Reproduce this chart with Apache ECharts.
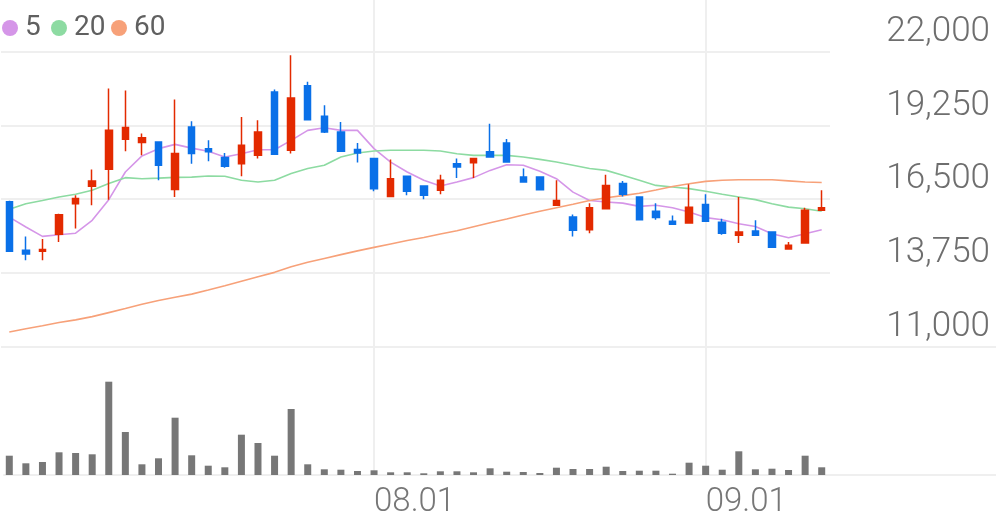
<!DOCTYPE html>
<html>
<head>
<meta charset="utf-8">
<script src="https://cdn.jsdelivr.net/npm/echarts@6/dist/echarts.min.js"></script>
<style>
html,body{margin:0;padding:0;background:#fff;}
#chart{width:996px;height:519px;}
</style>
</head>
<body>
<div id="chart"></div>
<script>
// ---- data ----
const dates = [
  '2020-07-02','2020-07-03','2020-07-06','2020-07-07','2020-07-08','2020-07-09','2020-07-10',
  '2020-07-13','2020-07-14','2020-07-15','2020-07-16','2020-07-17','2020-07-20','2020-07-21',
  '2020-07-22','2020-07-23','2020-07-24','2020-07-27','2020-07-28','2020-07-29','2020-07-30',
  '2020-07-31','2020-08-03','2020-08-04','2020-08-05','2020-08-06','2020-08-07','2020-08-10',
  '2020-08-11','2020-08-12','2020-08-13','2020-08-14','2020-08-18','2020-08-19','2020-08-20',
  '2020-08-21','2020-08-24','2020-08-25','2020-08-26','2020-08-27','2020-08-28','2020-08-31',
  '2020-09-01','2020-09-02','2020-09-03','2020-09-04','2020-09-07','2020-09-08','2020-09-09',
  '2020-09-10'
];
const openP  = [16400,14590,14560,15190,16330,16980,17610,18730,18610,18630,16860,19190,18380,18050,17820,18130,20490,18320,20720,19590,19000,18350,18010,16600,17350,16990,16830,17820,17850,18260,18590,17320,17320,16270,15830,15360,16140,17080,16580,16050,15670,15610,16300,15640,15150,15310,15270,14640,14860,16080];
const closeP = [14560,14450,14620,15920,16520,17170,19070,19170,18790,17760,18200,18200,18260,17720,18510,19000,18170,20270,19460,19000,18280,18220,16890,17260,16790,16640,17200,17700,18010,18070,17880,17140,16850,16450,15340,16180,17010,16680,15730,15810,15560,16200,15670,15230,15270,15150,14710,14780,16080,16180];
const lowP   = [14540,14220,14220,14900,15400,16270,16480,18280,18130,17200,16580,17820,17910,17670,17350,18010,18150,18200,19450,18960,18260,17860,16790,16590,16640,16490,16680,17290,17290,18050,17860,17120,16830,16250,15110,15230,16130,16600,15710,15730,15550,15590,15650,15170,14860,15130,14690,14620,14840,16060];
const highP  = [16440,15110,15010,15950,16640,17600,20620,20550,18940,18650,20210,19400,18690,18220,19560,19440,20580,21860,20870,20000,19370,18590,18030,17980,17370,17000,17410,18010,18020,19310,18740,17640,17330,17200,15930,16350,17410,17170,16590,16350,15890,17050,16680,15770,16580,15710,15290,14900,16180,16830];
const volume = [193000,117000,130000,227000,220000,207000,933000,430000,107000,167000,573000,197000,93000,77000,403000,320000,193000,660000,107000,57000,53000,40000,47000,27000,27000,17000,37000,37000,27000,67000,33000,30000,20000,73000,60000,60000,83000,40000,43000,43000,13000,123000,93000,53000,237000,57000,63000,50000,193000,77000];
const ma5  = [15830,15460,15110,15170,15230,15710,16480,17510,18110,18380,18540,18400,18280,18070,18190,18340,18340,18690,19060,19160,19060,19060,18380,17880,17510,17200,16990,17140,17300,17570,17780,17760,17540,17260,16760,16450,16390,16350,16230,16270,16180,16020,15810,15730,15580,15480,15210,15060,15210,15360];
const ma20 = [16120,16330,16450,16580,16680,16830,17080,17300,17260,17280,17310,17320,17360,17350,17200,17140,17200,17450,17640,17760,18070,18220,18290,18320,18320,18320,18290,18190,18130,18130,18130,18070,17980,17880,17760,17640,17570,17390,17200,17010,16950,16890,16790,16680,16580,16480,16330,16200,16140,16050];
const ma60 = [11550,11670,11780,11900,12000,12120,12270,12420,12580,12720,12840,12960,13110,13270,13440,13610,13770,13980,14150,14290,14430,14570,14700,14830,14960,15070,15200,15320,15470,15620,15760,15910,16050,16180,16310,16450,16550,16630,16720,16840,16970,17070,17160,17200,17220,17220,17220,17180,17140,17120];
const maNames  = ['5','20','60'];
const maColors = ['#d596e8','#8ddba2','#f7a179'];
const yTicks = { min: 11000, max: 22000, step: 2750 };

// ---- build ----
const candles = openP.map((o, i) => [o, closeP[i], lowP[i], highP[i]]);
const isMonthStart = (idx) => idx > 0 && dates[idx].slice(5, 7) !== dates[idx - 1].slice(5, 7);
const FONT = 'Roboto';
const gridLine = { color: '#efefef', width: 2 };
const legendLeft = [2, 51, 111];

const chart = echarts.init(document.getElementById('chart'), null, { renderer: 'canvas' });
chart.setOption({
  animation: false,
  backgroundColor: '#ffffff',
  legend: maNames.map((n, k) => ({
    data: [n],
    left: legendLeft[k], top: 9, padding: [5, 0, 5, 0],
    icon: 'circle', itemWidth: 16, itemHeight: 16, itemGap: 0,
    textStyle: { fontFamily: FONT, fontSize: 28, color: '#606060', padding: [0,0,0,2] }
  })),
  grid: [
    { left: 1, width: 829, top: 51.5, height: 295.2 },            // candles
    { left: 1, width: 829, top: 355, height: 120 },               // volume
    { left: 4, right: 0, top: 346.7, height: 128.3 },             // full-width separators
    { left: 9.29, width: 812.42, top: 0, height: 475 }            // month lines & labels
  ],
  xAxis: [
    { type: 'category', gridIndex: 0, data: dates, show: false },
    { type: 'category', gridIndex: 1, data: dates, show: false },
    { type: 'category', gridIndex: 2, data: ['a'], position: 'bottom',
      axisLine: { show: true, lineStyle: gridLine }, axisTick: { show: false }, axisLabel: { show: false } },
    { type: 'category', gridIndex: 2, data: ['a'], position: 'top',
      axisLine: { show: true, lineStyle: gridLine }, axisTick: { show: false }, axisLabel: { show: false } },
    { type: 'category', gridIndex: 3, data: dates, boundaryGap: false,
      axisLine: { show: false }, axisTick: { show: false },
      splitLine: { show: true, interval: (i) => isMonthStart(i), lineStyle: gridLine },
      axisLabel: {
        show: true, interval: (i) => isMonthStart(i), align: 'left', margin: 11,
        fontFamily: FONT, fontWeight: 300, fontSize: 33, color: '#777777',
        formatter: (v) => v.slice(5, 7) + '.01'
      }
    }
  ],
  yAxis: [
    { type: 'value', gridIndex: 0, position: 'right', min: yTicks.min, max: yTicks.max, interval: yTicks.step,
      axisLine: { show: false }, axisTick: { show: false },
      splitLine: { show: true, lineStyle: gridLine },
      axisLabel: {
        show: true, inside: false, align: 'right', verticalAlign: 'bottom', margin: 160,
        padding: [0, 0, 2, 0],
        fontFamily: FONT, fontWeight: 300, fontSize: 35, color: '#6e6e6e',
        formatter: (v) => v.toLocaleString('en-US')
      }
    },
    { type: 'value', gridIndex: 1, min: 0, max: 1200000, show: false, splitLine: { show: false } },
    { type: 'value', gridIndex: 2, show: false, splitLine: { show: false } },
    { type: 'value', gridIndex: 3, show: false, splitLine: { show: false } }
  ],
  series: [
    {
      type: 'candlestick', xAxisIndex: 0, yAxisIndex: 0, data: candles,
      barWidth: 7,
      itemStyle: { color: '#e32a00', color0: '#0a70e8', borderColor: '#e32a00', borderColor0: '#0a70e8', borderWidth: 1.5 },
      z: 5
    },
    ...[ma5, ma20, ma60].map((arr, k) => ({
      name: maNames[k], type: 'line', xAxisIndex: 0, yAxisIndex: 0, data: arr,
      showSymbol: false, symbol: 'circle', color: maColors[k],
      lineStyle: { width: 1.6, color: maColors[k] }, z: 4
    })),
    {
      type: 'bar', xAxisIndex: 1, yAxisIndex: 1, data: volume, barWidth: 7,
      itemStyle: { color: '#777777' }
    }
  ]
});
</script>
</body>
</html>
